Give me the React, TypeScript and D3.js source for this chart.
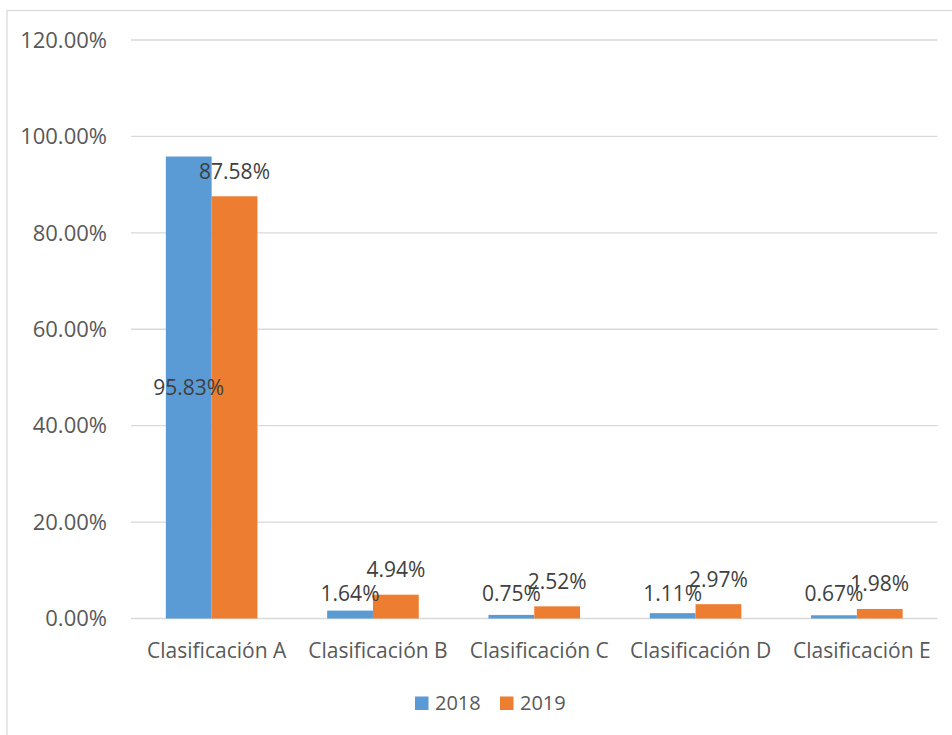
import React from "react";
import * as d3 from "d3";

const categories = ["Clasificación A", "Clasificación B", "Clasificación C", "Clasificación D", "Clasificación E"];
const seriesNames = ["2018", "2019"];
const values2018 = [95.83, 1.64, 0.75, 1.11, 0.67];
const values2019 = [87.58, 4.94, 2.52, 2.97, 1.98];
const yTicks = [0, 20, 40, 60, 80, 100, 120];
const colors = ["#5b9bd5", "#ed7d31"];

const W = 952;
const H = 735;
const FONT = "'Open Sans', sans-serif";

export default function App() {
  const x0 = 131, x1 = 937.5, yBase = 618.5, yTop = 40;
  const x = d3.scaleBand<string>().domain(categories).range([x0, x1]).paddingInner(0.432).paddingOuter(0.216);
  const xs = d3.scaleBand<string>().domain(seriesNames).range([0, x.bandwidth()]);
  const y = d3.scaleLinear().domain([0, 120]).range([yBase, yTop]);
  const series = [values2018, values2019];

  return (
    <svg width={W} height={H} style={{ position: "absolute", left: 0, top: 0, background: "#fff" }} fontFamily={FONT}>
      <rect x={7} y={10.5} width={W + 10} height={H + 10} fill="#fff" stroke="#d9d9d9" strokeWidth={1.2} />
      {yTicks.map((t) => (
        <g key={t}>
          <line x1={x0} x2={x1} y1={y(t)} y2={y(t)} stroke="#d9d9d9" strokeWidth={1.3} />
          <text x={107} y={y(t)} dy="0.35em" textAnchor="end" fontSize={22} fill="#595959">
            {t.toFixed(2)}%
          </text>
        </g>
      ))}
      {categories.map((c, i) => (
        <g key={c}>
          {series.map((vals, s) => {
            const bx = (x(c) as number) + (xs(seriesNames[s]) as number);
            const bw = xs.bandwidth();
            return (
              <rect key={s} x={bx} y={y(vals[i])} width={bw} height={yBase - y(vals[i])} fill={colors[s]} />
            );
          })}
          <text x={(x(c) as number) + x.bandwidth() / 2 + 5} y={657.5} textAnchor="middle" fontSize={21} fill="#595959">
            {c}
          </text>
        </g>
      ))}
      {categories.map((c, i) =>
        series.map((vals, s) => {
          const bx = (x(c) as number) + (xs(seriesNames[s]) as number) + xs.bandwidth() / 2;
          const top = y(vals[i]);
          const cy = s === 0 ? Math.min((top + yBase) / 2, yBase - 25) : top - 25;
          return (
            <text key={c + s} x={bx} y={cy} dy="0.35em" textAnchor="middle" fontSize={21} fill="#404040">
              {vals[i].toFixed(2)}%
            </text>
          );
        })
      )}
      {seriesNames.map((n, s) => {
        const lx = 415 + s * 85;
        return (
          <g key={n}>
            <rect x={lx} y={696.5} width={13.5} height={13.5} fill={colors[s]} />
            <text x={lx + 20} y={703} dy="0.35em" fontSize={20} fill="#595959">
              {n}
            </text>
          </g>
        );
      })}
    </svg>
  );
}
